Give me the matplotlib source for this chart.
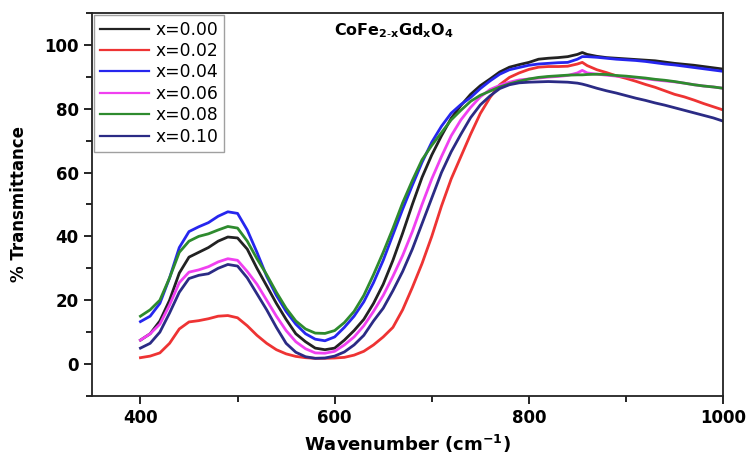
"""
FTIR transmittance of CoFe2-xGdxO4 samples
"""

import matplotlib
matplotlib.use('Agg')
import matplotlib.pyplot as plt
from matplotlib.ticker import MultipleLocator

# Wavenumber grid (cm-1)
wavenumber = [400, 410, 420, 430, 440, 450, 460, 470, 480, 490,
              500, 510, 520, 530, 540, 550, 560, 570, 580, 590,
              600, 610, 620, 630, 640, 650, 660, 670, 680, 690,
              700, 710, 720, 730, 740, 750, 760, 770, 780, 790,
              800, 810, 820, 830, 840, 850, 855, 860, 870, 880,
              890, 900, 910, 920, 930, 940, 950, 960, 970, 980,
              990, 1000]

# % transmittance for every composition
t_000 = [7.5, 9.5, 13.5, 20, 28.5, 33.5, 35, 36.5, 38.5, 39.8,
         39.5, 36, 30, 24.5, 19, 14, 9.5, 7, 5, 4.5,
         5, 7.5, 10.5, 14, 19, 25, 32.5, 41, 50, 58.5,
         65.5, 71.5, 77, 81, 84.5, 87.2, 89.3, 91.5, 93, 93.8,
         94.5, 95.5, 95.8, 96, 96.3, 97, 97.6, 97, 96.4, 96,
         95.8, 95.6, 95.4, 95.2, 95, 94.6, 94.2, 93.9, 93.6, 93.2,
         92.8, 92.4]
t_002 = [2, 2.5, 3.5, 6.5, 11, 13.2, 13.6, 14.2, 15, 15.2,
         14.5, 12, 9, 6.5, 4.5, 3.2, 2.4, 2, 1.8, 1.8,
         1.9, 2.1, 2.8, 4, 6, 8.5, 11.5, 17, 24, 31.5,
         40, 49.5, 58, 65, 72, 78.5, 83.5, 87.5, 89.8, 91.2,
         92.3, 93, 93.2, 93.2, 93.3, 94, 94.5, 93.5, 92.2, 91.3,
         90.3, 89.5, 88.6, 87.6, 86.7, 85.6, 84.5, 83.7, 82.7, 81.6,
         80.6, 79.6]
t_004 = [13.3, 15, 19, 27, 36.5, 41.5, 43, 44.3, 46.3, 47.7,
         47.2, 42, 35, 27.5, 21.5, 16.5, 12.5, 9.5, 7.8, 7.3,
         8.5, 11.5, 15, 19.5, 25.5, 32.5, 40.5, 48.5, 56, 63.2,
         69.5, 74.5, 78.6, 81.3, 83.5, 86.3, 88.7, 90.8, 92.2, 92.9,
         93.6, 94, 94.2, 94.4, 94.5, 95.5, 96.3, 96.3, 96.1, 95.8,
         95.5, 95.3, 95.1, 94.8, 94.4, 94, 93.7, 93.3, 92.9, 92.5,
         92.1, 91.7]
t_006 = [7.5, 9.5, 12.5, 18.5, 25.5, 28.8, 29.5, 30.5, 32, 33,
         32.5, 29, 25, 20, 15, 10.5, 7, 4.8, 3.5, 3.4,
         4, 6, 8.5, 12, 16.5, 21.5, 27.5, 34, 41.5, 50,
         58, 65, 71.5, 76.5, 80.4, 83.7, 86, 87.3, 88.3, 89,
         89.3, 89.6, 89.9, 90.1, 90.4, 91.2, 92, 91.2, 90.8, 90.5,
         90.2, 90, 89.7, 89.4, 89, 88.7, 88.4, 88, 87.5, 87.1,
         86.8, 86.4]
t_008 = [15, 17, 20, 27, 35, 38.5, 40, 40.8, 42, 43.1,
         42.6, 38.5, 33, 28, 22.5, 17.5, 13.5, 11, 9.7, 9.6,
         10.5, 13, 16.5, 21.5, 28, 35, 42.5, 50.5, 57.5, 64,
         68.5, 72.5, 76.5, 79.5, 82.3, 84.2, 85.5, 86.8, 87.8, 88.6,
         89.3, 89.8, 90.1, 90.3, 90.5, 90.6, 90.6, 90.7, 90.8, 90.7,
         90.4, 90.2, 89.9, 89.6, 89.2, 88.9, 88.5, 88, 87.5, 87.1,
         86.8, 86.4]
t_010 = [5, 6.5, 10, 16, 22.5, 26.8, 27.8, 28.3, 30, 31.2,
         30.7, 27, 22, 17, 11.5, 6.5, 3.7, 2.3, 1.8, 1.9,
         2.5, 3.8, 6, 9, 13.5, 17.5, 23, 29, 36, 44,
         52, 60, 66.5, 72, 77.2, 81.2, 84, 86.3, 87.5, 88.1,
         88.3, 88.4, 88.5, 88.4, 88.3, 88, 87.7, 87.3, 86.4, 85.6,
         84.9, 84.1, 83.3, 82.6, 81.8, 81.1, 80.3, 79.5, 78.7, 77.9,
         77.1, 76.1]

labels = ['x=0.00', 'x=0.02', 'x=0.04', 'x=0.06', 'x=0.08', 'x=0.10']
colors = ['#222222', '#ee3333', '#2626ee', '#f040f0', '#2e8b2e', '#2b2b85']
series = [t_000, t_002, t_004, t_006, t_008, t_010]

fig = plt.figure(figsize=(7.47, 4.61), dpi=100)
ax = fig.add_axes([0.123, 0.141, 0.845, 0.831])

for y, lab, c in zip(series, labels, colors):
    ax.plot(wavenumber, y, color=c, lw=2.0, label=lab)

ax.set_xlim(350, 1000)
ax.set_ylim(-10, 110)
ax.xaxis.set_minor_locator(MultipleLocator(100))
ax.yaxis.set_minor_locator(MultipleLocator(10))
ax.set_xticks([400, 600, 800, 1000])
ax.set_yticks([0, 20, 40, 60, 80, 100])

ax.tick_params(which='major', direction='out', length=6, width=1.2,
               labelsize=12, top=False, right=False)
ax.tick_params(which='minor', direction='out', length=4, width=1.2,
               top=False, right=False)
for lbl in ax.get_xticklabels() + ax.get_yticklabels():
    lbl.set_fontweight('bold')
for sp in ax.spines.values():
    sp.set_linewidth(1.3)
    sp.set_color('#222222')

ax.set_xlabel('Wavenumber (cm$^{\\mathbf{-1}}$)', fontsize=13, fontweight='bold')
ax.set_ylabel('% Transmittance', fontsize=12, fontweight='bold', labelpad=12)

ax.text(599, 104.4, r'$\mathbf{CoFe_{2\text{-}x}Gd_xO_4}$', fontsize=11.5,
        ha='left', va='center')

leg = ax.legend(loc='upper left', fontsize=12.3, handlelength=2.9,
                frameon=True, fancybox=False, borderaxespad=0.1,
                labelspacing=0.2, handletextpad=0.35, borderpad=0.35)
leg.get_frame().set_edgecolor('#888888')
leg.get_frame().set_linewidth(1.0)
for h in leg.get_lines():
    h.set_linewidth(1.6)

plt.savefig('out.png', dpi=100)
